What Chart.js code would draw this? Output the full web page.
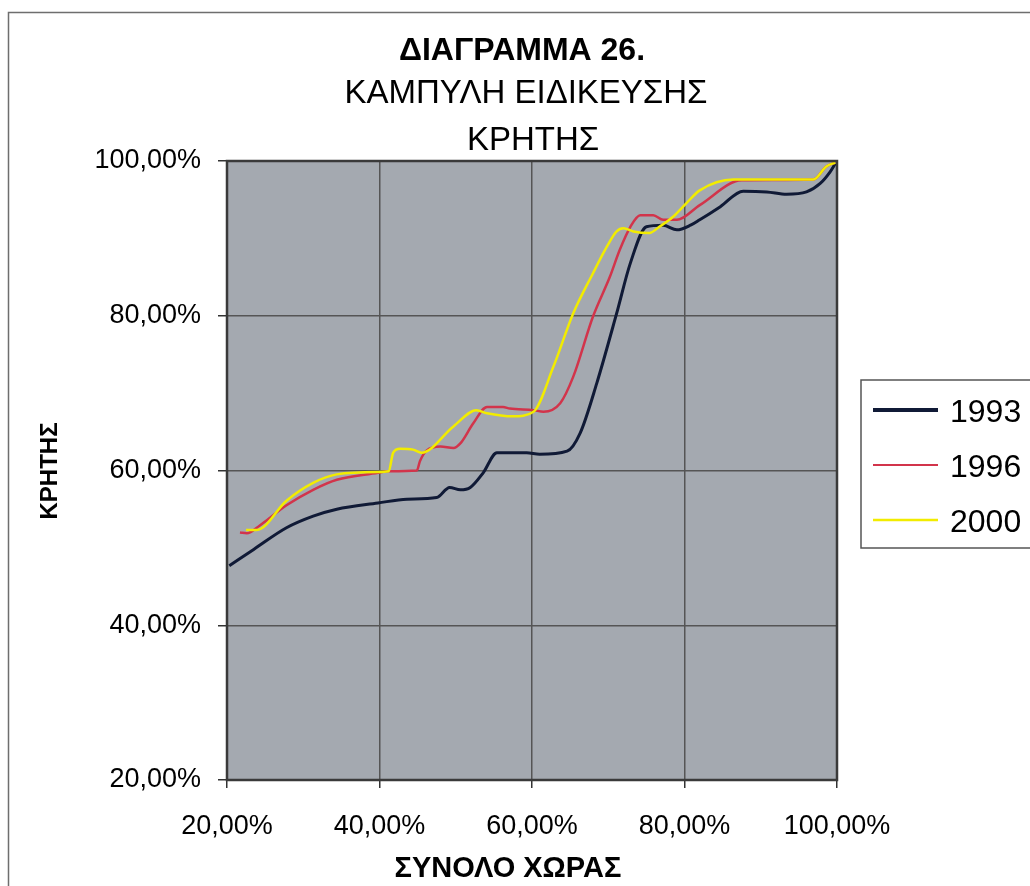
<!DOCTYPE html>
<html>
<head>
<meta charset="utf-8">
<script src="https://cdn.jsdelivr.net/npm/chart.js@4.4.1/dist/chart.umd.min.js"></script>
<style>
    body { margin: 0; background: #fff; }
    #wrap { width: 1030px; height: 886px; position: relative; }
</style>
</head>
<body>
<div id="wrap"><canvas id="curveChart"></canvas></div>
<script>
// Καμπύλη ειδίκευσης Κρήτης
const seriesNames = ['1993', '1996', '2000'];
const seriesColors = ['#101a36', '#d2344b', '#f2ec00'];

const x1993 = [20.3, 23.5, 27.8, 31.3, 34.4, 39.8, 43.6, 47.5, 49.2, 50.6, 51.9, 53.6, 55.4, 59.3, 61.0, 64.6, 66.3, 68.5, 71.1, 72.9, 75.0, 77.2, 79.0, 80.8, 82.0, 84.7, 87.7, 90.8, 93.4, 96.0, 97.8, 99.1, 99.8];
const y1993 = [47.7, 49.8, 52.6, 54.1, 55.0, 55.8, 56.3, 56.5, 57.8, 57.5, 57.8, 59.7, 62.3, 62.3, 62.1, 62.5, 64.8, 71.3, 80.3, 86.8, 91.5, 91.7, 91.1, 91.7, 92.4, 94.1, 96.1, 96.0, 95.7, 96.0, 97.1, 98.6, 99.7];

const x1996 = [21.7, 22.6, 24.3, 27.8, 31.3, 34.4, 39.8, 41.0, 44.9, 45.3, 46.2, 48.0, 49.7, 50.6, 52.3, 54.1, 56.2, 57.1, 60.2, 61.5, 63.7, 65.4, 68.0, 70.2, 71.5, 72.9, 74.2, 75.9, 77.2, 79.0, 82.0, 87.5, 96.9, 98.6, 99.8];
const y1996 = [52.0, 51.9, 52.9, 55.5, 57.5, 58.8, 59.7, 59.9, 60.0, 61.2, 62.6, 63.1, 62.9, 63.5, 66.1, 68.2, 68.2, 68.0, 67.8, 67.6, 68.7, 72.1, 79.9, 85.0, 88.5, 91.5, 93.0, 93.0, 92.4, 92.4, 94.3, 97.5, 97.6, 99.3, 99.8];

const x2000 = [22.5, 23.9, 27.8, 31.3, 34.4, 39.8, 41.2, 41.8, 42.7, 44.4, 45.5, 49.7, 52.7, 54.1, 57.5, 60.2, 62.8, 65.4, 68.0, 69.8, 71.1, 72.0, 73.3, 75.4, 76.7, 78.5, 80.2, 82.0, 86.4, 96.9, 98.6, 99.8];
const y2000 = [52.3, 52.3, 56.1, 58.4, 59.5, 59.8, 59.9, 62.3, 62.8, 62.7, 62.3, 65.7, 67.8, 67.4, 67.0, 67.6, 73.4, 80.3, 85.5, 88.9, 90.9, 91.3, 90.9, 90.7, 91.5, 92.8, 94.5, 96.2, 97.6, 97.6, 99.3, 99.8];

const axisTicks = [20, 40, 60, 80, 100];
const titleLines = ['ΔΙΑΓΡΑΜΜΑ 26.', 'ΚΑΜΠΥΛΗ ΕΙΔΙΚΕΥΣΗΣ', 'ΚΡΗΤΗΣ'];
const xTitle = 'ΣΥΝΟΛΟ ΧΩΡΑΣ';
const yTitle = 'ΚΡΗΤΗΣ';

const FONT = "'Liberation Sans', Arial, sans-serif";

function toPoints(xs, ys) {
    return xs.map((x, i) => ({ x: x, y: ys[i] }));
}

function pct(v) {
    return v.toFixed(2).replace('.', ',') + '%';
}

// background, frame, titles and legend
const decorPlugin = {
    id: 'decor',
    beforeDraw(chart) {
        const ctx = chart.ctx;
        const a = chart.chartArea;
        ctx.save();
        ctx.fillStyle = '#ffffff';
        ctx.fillRect(0, 0, chart.width, chart.height);
        ctx.strokeStyle = '#6e6e6e';
        ctx.lineWidth = 1.5;
        ctx.strokeRect(8.5, 12.5, chart.width + 20, chart.height + 20);
        ctx.fillStyle = '#a4a9b0';
        ctx.fillRect(a.left, a.top, a.right - a.left, a.bottom - a.top);
        ctx.restore();
    },
    afterDraw(chart) {
        const ctx = chart.ctx;
        const a = chart.chartArea;
        ctx.save();

        // plot border
        ctx.strokeStyle = '#3a3a3a';
        ctx.lineWidth = 2.5;
        ctx.strokeRect(a.left, a.top, a.right - a.left, a.bottom - a.top);

        // titles
        ctx.fillStyle = '#000';
        ctx.textAlign = 'center';
        ctx.textBaseline = 'alphabetic';
        ctx.font = 'bold 32px ' + FONT;
        ctx.fillText(titleLines[0], 522, 60);
        ctx.font = '33px ' + FONT;
        ctx.fillText(titleLines[1], 526, 103);
        ctx.fillText(titleLines[2], 533, 150);

        // axis titles
        ctx.font = 'bold 29px ' + FONT;
        ctx.fillText(xTitle, 508, 877);
        ctx.save();
        ctx.translate(57, 471);
        ctx.rotate(-Math.PI / 2);
        ctx.font = 'bold 24px ' + FONT;
        ctx.fillText(yTitle, 0, 0);
        ctx.restore();

        // legend box
        ctx.fillStyle = '#fff';
        ctx.fillRect(861, 380, 200, 168);
        ctx.strokeStyle = '#555';
        ctx.lineWidth = 1.5;
        ctx.strokeRect(861, 380, 200, 168);
        const legendWidths = [4, 2, 2.5];
        chart.data.datasets.forEach((ds, i) => {
            const y = 410 + i * 55;
            ctx.strokeStyle = ds.borderColor;
            ctx.lineWidth = legendWidths[i];
            ctx.beginPath();
            ctx.moveTo(873, y);
            ctx.lineTo(938, y);
            ctx.stroke();
            ctx.fillStyle = '#000';
            ctx.textAlign = 'left';
            ctx.font = '32px ' + FONT;
            ctx.fillText(ds.label, 950, y + 11.5);
        });
        ctx.restore();
    }
};

let curveChart = null;

function createCurveChart() {
    const ctx = document.getElementById('curveChart');
    if (!ctx) return;

    const xs = [x1993, x1996, x2000];
    const ys = [y1993, y1996, y2000];
    const widths = [3, 2.5, 2.5];

    const datasets = seriesNames.map((name, i) => ({
        label: name,
        data: toPoints(xs[i], ys[i]),
        borderColor: seriesColors[i],
        backgroundColor: seriesColors[i],
        borderWidth: widths[i],
        pointRadius: 0,
        cubicInterpolationMode: 'monotone',
        fill: false,
        order: 3 - i
    }));

    curveChart = new Chart(ctx, {
        type: 'line',
        data: { datasets: datasets },
        options: {
            responsive: true,
            maintainAspectRatio: false,
            animation: false,
            layout: {
                padding: { left: 0, right: 193, top: 161, bottom: 0 }
            },
            plugins: {
                legend: { display: false },
                tooltip: { enabled: false },
                title: { display: false }
            },
            scales: {
                x: {
                    type: 'linear',
                    min: 20,
                    max: 100,
                    afterBuildTicks: (scale) => {
                        scale.ticks = axisTicks.map(v => ({ value: v }));
                    },
                    afterFit: (scale) => { scale.height = 106; },
                    grid: {
                        color: '#555',
                        lineWidth: 1.5,
                        tickLength: 8,
                        tickColor: '#333'
                    },
                    border: { display: false },
                    ticks: {
                        padding: 22,
                        color: '#000',
                        font: { family: FONT, size: 27 },
                        callback: (v) => pct(v),
                        maxRotation: 0
                    }
                },
                y: {
                    type: 'linear',
                    min: 20,
                    max: 100,
                    afterBuildTicks: (scale) => {
                        scale.ticks = axisTicks.map(v => ({ value: v }));
                    },
                    afterFit: (scale) => { scale.width = 227; },
                    grid: {
                        color: '#555',
                        lineWidth: 1.5,
                        tickLength: 9,
                        tickColor: '#333'
                    },
                    border: { display: false },
                    ticks: {
                        padding: 17,
                        color: '#000',
                        font: { family: FONT, size: 27 },
                        callback: (v) => pct(v)
                    }
                }
            }
        },
        plugins: [decorPlugin]
    });
}

document.addEventListener('DOMContentLoaded', function() {
    createCurveChart();
});
</script>
</body>
</html>
